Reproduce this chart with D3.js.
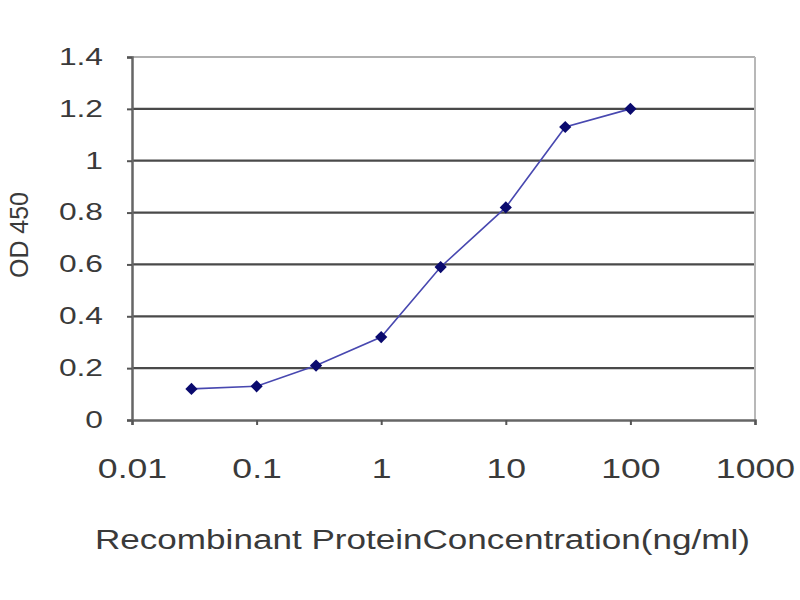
<!DOCTYPE html>
<html>
<head>
<meta charset="utf-8">
<script src="https://cdn.jsdelivr.net/npm/d3@7"></script>
<style>
  body { margin: 0; background: #fff; }
  text { font-family: "Liberation Sans", Arial, sans-serif; fill: #3a3a3a; }
</style>
</head>
<body>
<svg id="chart"></svg>
<script>
// concentration (ng/ml) and OD 450 readings
const concentrations = [0.03, 0.1, 0.3, 1, 3, 10, 30, 100];
const odValues = [0.12, 0.13, 0.21, 0.32, 0.59, 0.82, 1.13, 1.20];
const xTicks = [0.01, 0.1, 1, 10, 100, 1000];
const yTicks = [0, 0.2, 0.4, 0.6, 0.8, 1, 1.2, 1.4];

const width = 800, height = 600;
const margin = {top: 57, right: 45, bottom: 180, left: 132};
// the source picture is stretched sideways, so the text is too
const stretch = 1.38;

const svg = d3.select('#chart')
  .attr('width', width)
  .attr('height', height);

const innerW = width - margin.left - margin.right;
const innerH = height - margin.top - margin.bottom;

const chart = svg.append('g')
  .attr('transform', `translate(${margin.left},${margin.top})`);

const xScale = d3.scaleLog()
  .domain([0.01, 1000])
  .range([0, innerW]);

const yScale = d3.scaleLinear()
  .domain([0, 1.4])
  .range([innerH, 0]);

// horizontal gridlines
chart.selectAll('.grid')
  .data(yTicks.filter(d => d > 0))
  .join('line')
  .attr('class', 'grid')
  .attr('x1', 0)
  .attr('x2', innerW)
  .attr('y1', d => yScale(d))
  .attr('y2', d => yScale(d))
  .attr('stroke', d => d === 1.4 ? '#b0b0b0' : '#4a4a4a')
  .attr('stroke-width', 2.2);

// right border
chart.append('line')
  .attr('x1', innerW).attr('x2', innerW)
  .attr('y1', 0).attr('y2', innerH)
  .attr('stroke', '#b8b8b8')
  .attr('stroke-width', 2);

// y axis
const yAxisG = chart.append('g')
  .call(d3.axisLeft(yScale).tickValues(yTicks).tickSize(5)
    .tickFormat(d3.format('~g')));
yAxisG.select('.domain').attr('stroke', '#666').attr('stroke-width', 2.5);
yAxisG.selectAll('.tick line').attr('stroke', '#555').attr('stroke-width', 2);
yAxisG.selectAll('text')
  .style('font-size', '23px')
  .attr('fill', '#3a3a3a')
  .attr('x', -29 / stretch)
  .attr('transform', `scale(${stretch},1)`);

// x axis
const xAxisG = chart.append('g')
  .attr('transform', `translate(0,${innerH})`)
  .call(d3.axisBottom(xScale).tickValues(xTicks).tickSize(5).tickPadding(34)
    .tickFormat(d3.format('~g')));
xAxisG.select('.domain').attr('stroke', '#666').attr('stroke-width', 2.5);
xAxisG.selectAll('.tick line').attr('stroke', '#555').attr('stroke-width', 2);
xAxisG.selectAll('text')
  .style('font-size', '27px')
  .attr('fill', '#3a3a3a')
  .attr('transform', `scale(1.32,1)`);

// line
const data = concentrations.map((c, i) => ({x: c, y: odValues[i]}));

chart.append('path')
  .datum(data)
  .attr('fill', 'none')
  .attr('stroke', '#4848b0')
  .attr('stroke-width', 1.6)
  .attr('d', d3.line().x(d => xScale(d.x)).y(d => yScale(d.y)));

// diamond markers
chart.selectAll('.point')
  .data(data)
  .join('path')
  .attr('class', 'point')
  .attr('transform', d => `translate(${xScale(d.x)},${yScale(d.y)})`)
  .attr('d', d3.symbol().type(d3.symbolDiamond2).size(95))
  .attr('fill', '#0a0a6e');

// axis titles
svg.append('text')
  .attr('x', 95)
  .attr('y', 549)
  .attr('textLength', 655)
  .attr('lengthAdjust', 'spacingAndGlyphs')
  .style('font-size', '27px')
  .text('Recombinant ProteinConcentration(ng/ml)');

svg.append('text')
  .attr('transform', 'translate(28,235) rotate(-90)')
  .attr('x', -43)
  .attr('textLength', 86)
  .attr('lengthAdjust', 'spacingAndGlyphs')
  .style('font-size', '26px')
  .text('OD 450');
</script>
</body>
</html>
